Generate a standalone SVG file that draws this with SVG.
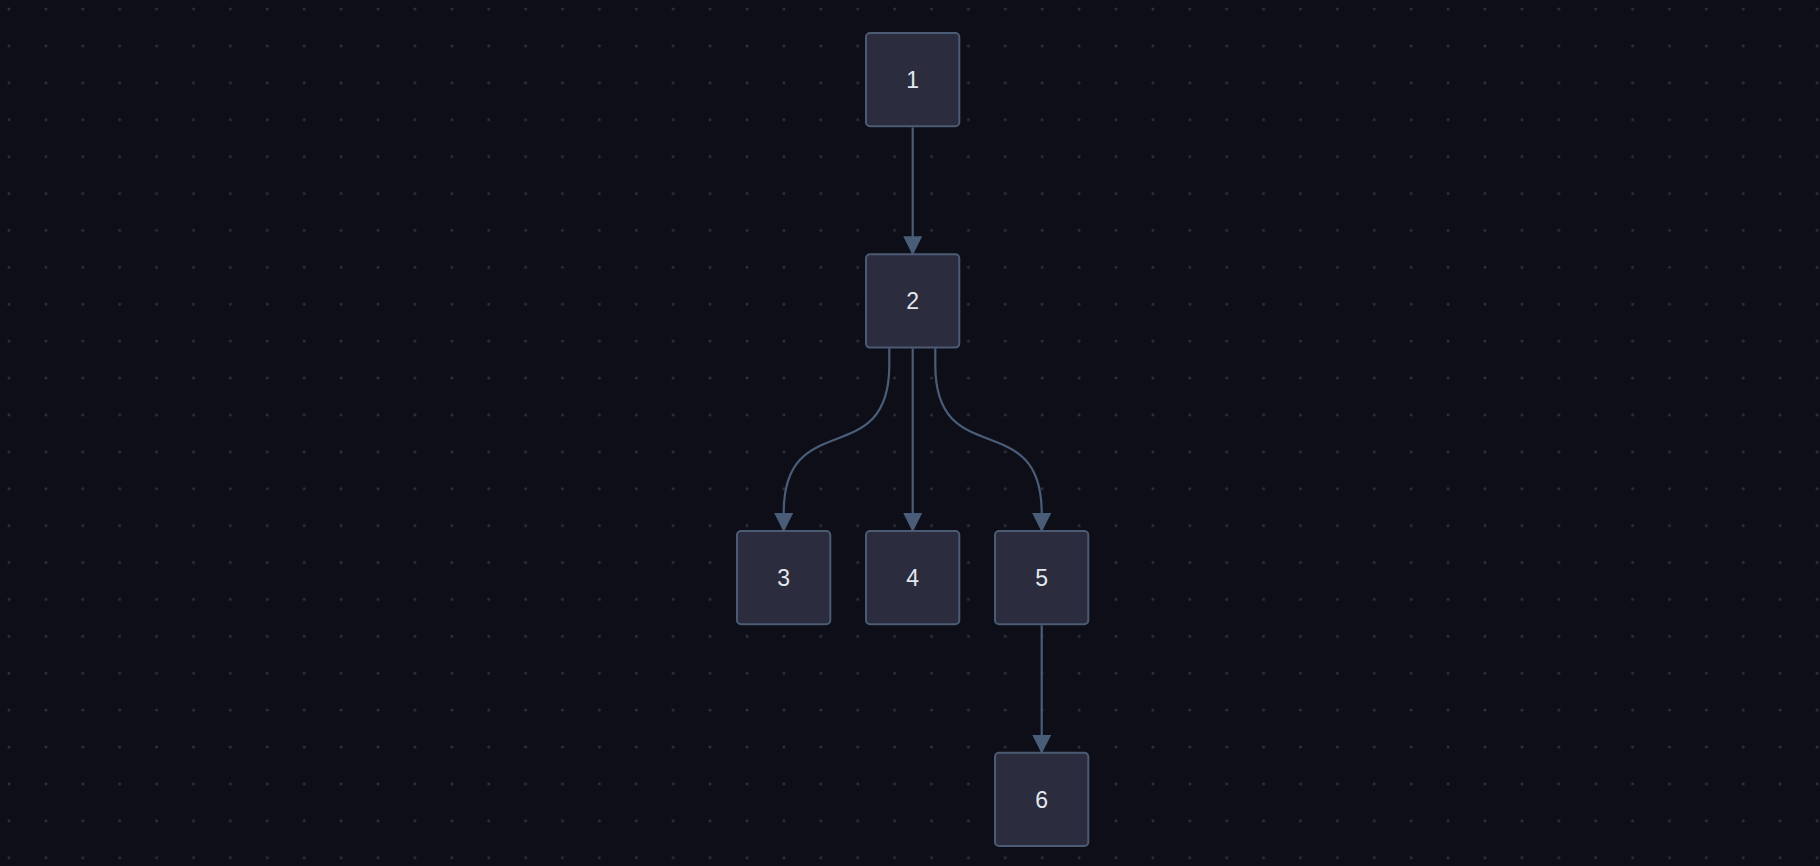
<svg xmlns="http://www.w3.org/2000/svg" width="1820" height="866" viewBox="0 0 1820 866">
  <style>
    .node rect { fill: #2b2c3d; stroke: #4b5b74; stroke-width: 2; }
    .node text { fill: #e2e8f0; font-family: "Liberation Sans", Arial, sans-serif; font-size: 23px; text-anchor: middle; }
    .edge { fill: none; stroke: #4a5d78; stroke-width: 2.2; marker-end: url(#arrow); }
  </style>
  <defs>
    <pattern id="dots" x="9" y="9" width="36.9" height="36.9" patternUnits="userSpaceOnUse">
      <circle cx="0" cy="0" r="1.5" fill="#2e303c"/>
      <circle cx="36.9" cy="0" r="1.5" fill="#2e303c"/>
      <circle cx="0" cy="36.9" r="1.5" fill="#2e303c"/>
      <circle cx="36.9" cy="36.9" r="1.5" fill="#2e303c"/>
    </pattern>
    <marker id="arrow" markerUnits="userSpaceOnUse" markerWidth="19" markerHeight="19" viewBox="0 0 18 18" refX="17" refY="9" orient="auto">
      <path d="M0,0 L18,9 L0,18 z" fill="#4a5d78"/>
    </marker>
  </defs>
  <rect width="1820" height="866" fill="#0d0e17"/>
  <rect width="1820" height="866" fill="url(#dots)"/>

  <g id="connectors">
    <path class="edge" d="M912.7,127.3 L912.7,254.3"/>
    <path class="edge" d="M889.3,348.3 L889.3,365 C889.3,473 783.7,405 783.7,513 L783.7,531"/>
    <path class="edge" d="M912.7,348.3 L912.7,531"/>
    <path class="edge" d="M935.3,348.3 L935.3,365 C935.3,473 1041.7,405 1041.7,513 L1041.7,531"/>
    <path class="edge" d="M1041.7,625.3 L1041.7,752.7"/>
  </g>

  <g id="node-1" class="node">
    <rect x="866" y="33" width="93.3" height="93.3" rx="4"/>
    <text x="912.7" y="88">1</text>
  </g>
  <g id="node-2" class="node">
    <rect x="866" y="254.3" width="93.3" height="93.3" rx="4"/>
    <text x="912.7" y="309.3">2</text>
  </g>
  <g id="node-3" class="node">
    <rect x="737" y="531" width="93.3" height="93.3" rx="4"/>
    <text x="783.7" y="586">3</text>
  </g>
  <g id="node-4" class="node">
    <rect x="866" y="531" width="93.3" height="93.3" rx="4"/>
    <text x="912.7" y="586">4</text>
  </g>
  <g id="node-5" class="node">
    <rect x="995" y="531" width="93.3" height="93.3" rx="4"/>
    <text x="1041.7" y="586">5</text>
  </g>
  <g id="node-6" class="node">
    <rect x="995" y="752.7" width="93.3" height="93.3" rx="4"/>
    <text x="1041.7" y="807.7">6</text>
  </g>
</svg>
